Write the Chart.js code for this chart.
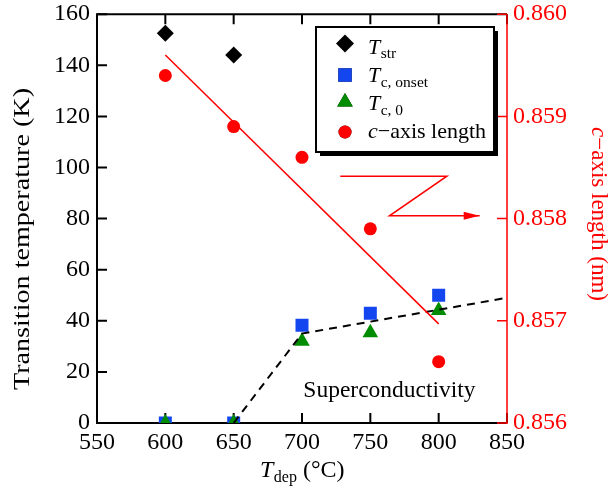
<!DOCTYPE html>
<html>
<head>
<meta charset="utf-8">
<script src="https://cdn.jsdelivr.net/npm/chart.js@4.4.1/dist/chart.umd.min.js"></script>
<style>
html, body { margin: 0; padding: 0; background: #fff; }
#quadro { width: 611px; height: 495px; }
</style>
</head>
<body>
<div id="quadro"><canvas id="grafico"></canvas></div>
<script>
// dados
const temperaturasDep = [600, 650, 700, 750, 800];
const tStr = [152.5, 144];
const tcOnset = [0, 0, 38.3, 43, 50];
const tcZero = [0, 0, 32, 35.3, 44];
const eixoC = [0.8594, 0.8589, 0.8586, 0.8579, 0.8566];
const ajusteX = [600, 800];
const ajusteC = [0.8596, 0.85697];
const guiaX = [650, 700, 850];
const guiaY = [0, 35, 49];
const setaX = [728, 806, 764, 830];
const setaY = [96.6, 96.6, 81.1, 81.1];
const textoSupercondutividade = { x: 764, y: 10.3, texto: 'Superconductivity' };

const legendaItens = [
    { principal: 'T', sub: 'str', estilo: 'rectRot', cor: '#000000', raio: 9 },
    { principal: 'T', sub: 'c, onset', estilo: 'rect', cor: 'rgb(20,70,240)', raio: 9.5 },
    { principal: 'T', sub: 'c, 0', estilo: 'triangle', cor: 'rgb(0,140,0)', raio: 9 },
    { principal: 'c', resto: '\u2212axis length', estilo: 'circle', cor: '#ff0000', raio: 6.5 },
];

const PRETO = '#000000';
const AZUL = 'rgb(20,70,240)';
const VERDE = 'rgb(0,140,0)';
const VERMELHO = '#ff0000';
const FONTE = 'Liberation Serif';

Chart.defaults.font.family = FONTE;

function pontos(xs, ys) {
    return ys.map((y, i) => ({ x: xs[i], y }));
}

const molduraPlugin = {
    id: 'moldura',
    beforeDatasetsDraw(chart) {
        const { ctx, chartArea: a, scales } = chart;
        ctx.save();
        ctx.lineCap = 'butt';
        ctx.strokeStyle = PRETO;
        ctx.lineWidth = 2;
        ctx.beginPath();
        scales.x.ticks.forEach((t) => {
            const px = scales.x.getPixelForValue(t.value);
            ctx.moveTo(px, a.bottom);
            ctx.lineTo(px, a.bottom - 10);
            ctx.moveTo(px, a.top);
            ctx.lineTo(px, a.top + 10);
        });
        scales.y.ticks.forEach((t) => {
            const py = scales.y.getPixelForValue(t.value);
            ctx.moveTo(a.left, py);
            ctx.lineTo(a.left + 10, py);
        });
        ctx.stroke();
        ctx.beginPath();
        ctx.moveTo(a.right, a.top);
        ctx.lineTo(a.left, a.top);
        ctx.lineTo(a.left, a.bottom);
        ctx.lineTo(a.right, a.bottom);
        ctx.stroke();
        ctx.strokeStyle = VERMELHO;
        ctx.lineWidth = 1.5;
        ctx.beginPath();
        scales.y2.ticks.forEach((t) => {
            const py = scales.y2.getPixelForValue(t.value);
            ctx.moveTo(a.right, py);
            ctx.lineTo(a.right - 10, py);
        });
        ctx.moveTo(a.right, a.top);
        ctx.lineTo(a.right, a.bottom + 1);
        ctx.stroke();
        ctx.restore();
    },
    afterDatasetsDraw(chart) {
        // ponta da seta, no fim do dataset da seta
        const meta = chart.getDatasetMeta(chart.data.datasets.findIndex((d) => d.id === 'seta'));
        const pts = meta.data;
        const p1 = pts[pts.length - 2];
        const p2 = pts[pts.length - 1];
        const ang = Math.atan2(p2.y - p1.y, p2.x - p1.x);
        const { ctx } = chart;
        ctx.save();
        ctx.translate(p2.x, p2.y);
        ctx.rotate(ang);
        ctx.fillStyle = VERMELHO;
        ctx.beginPath();
        ctx.moveTo(0, 0);
        ctx.lineTo(-16, -4);
        ctx.lineTo(-16, 4);
        ctx.closePath();
        ctx.fill();
        ctx.restore();
    },
};

function textoComSub(ctx, x, y, principal, sub, resto, tam, tamSub, alinhar) {
    const fPrinc = `italic ${tam}px ${FONTE}`;
    const fSub = `${tamSub}px ${FONTE}`;
    const fResto = `${tam}px ${FONTE}`;
    ctx.font = fPrinc;
    const w1 = ctx.measureText(principal).width;
    ctx.font = fSub;
    const w2 = sub ? ctx.measureText(sub).width : 0;
    ctx.font = fResto;
    const w3 = resto ? ctx.measureText(resto).width : 0;
    let x0 = x;
    if (alinhar === 'center') x0 = x - (w1 + w2 + w3) / 2;
    ctx.textAlign = 'left';
    ctx.textBaseline = 'alphabetic';
    ctx.font = fPrinc;
    ctx.fillText(principal, x0, y);
    if (sub) {
        ctx.font = fSub;
        ctx.fillText(sub, x0 + w1 + 0.5, y + tamSub * 0.3);
    }
    if (resto) {
        ctx.font = fResto;
        ctx.fillText(resto, x0 + w1 + w2 + (sub ? 0.5 : 0), y);
    }
}

const textosPlugin = {
    id: 'textos',
    afterDraw(chart) {
        const { ctx, chartArea: a, scales } = chart;
        ctx.save();

        // texto dentro do grafico
        ctx.fillStyle = PRETO;
        ctx.font = `23.5px ${FONTE}`;
        ctx.textAlign = 'center';
        ctx.textBaseline = 'alphabetic';
        ctx.fillText(textoSupercondutividade.texto,
            scales.x.getPixelForValue(textoSupercondutividade.x),
            scales.y.getPixelForValue(textoSupercondutividade.y));

        // titulo esquerdo
        ctx.save();
        ctx.translate(23, 239);
        ctx.rotate(-Math.PI / 2);
        ctx.font = `23px ${FONTE}`;
        const tituloEsq = 'Transition temperature (K)';
        const larg = ctx.measureText(tituloEsq).width;
        ctx.scale(302 / larg, 1);
        ctx.textAlign = 'center';
        ctx.textBaseline = 'middle';
        ctx.fillText(tituloEsq, 0, 0);
        ctx.restore();

        // titulo direito
        ctx.save();
        ctx.translate(592, 214);
        ctx.rotate(Math.PI / 2);
        ctx.fillStyle = VERMELHO;
        textoComSub(ctx, 0, 0, 'c', null, '\u2212axis length (nm)', 23, 15, 'center');
        ctx.restore();

        // titulo inferior
        ctx.fillStyle = PRETO;
        textoComSub(ctx, (a.left + a.right) / 2, 477, 'T', 'dep', ' (\u00b0C)', 24, 16, 'center');

        // legenda
        const caixa = { x: 316, y: 27, w: 178, h: 125 };
        ctx.fillStyle = PRETO;
        ctx.fillRect(caixa.x + 4, caixa.y + 4, caixa.w, caixa.h);
        ctx.fillStyle = '#ffffff';
        ctx.fillRect(caixa.x, caixa.y, caixa.w, caixa.h);
        ctx.strokeStyle = PRETO;
        ctx.lineWidth = 2;
        ctx.strokeRect(caixa.x, caixa.y, caixa.w, caixa.h);
        const centros = [43.5, 75, 102, 132];
        const bases = [53.5, 82, 110, 138];
        legendaItens.forEach((item, i) => {
            Chart.helpers.drawPoint(ctx, {
                pointStyle: item.estilo,
                radius: item.raio,
                borderWidth: 0,
                rotation: 0,
            }, 345, centros[i]);
            ctx.fillStyle = item.cor;
            ctx.fill();
            ctx.fillStyle = PRETO;
            textoComSub(ctx, 368, bases[i], item.principal, item.sub, item.resto, 22, 15.5, 'left');
        });

        ctx.restore();
    },
};

const conjuntos = [
    {
        id: 'ajuste', data: pontos(ajusteX, ajusteC), yAxisID: 'y2', showLine: true,
        borderColor: VERMELHO, borderWidth: 1.5, pointRadius: 0, order: 0,
    },
    {
        id: 'guia', data: pontos(guiaX, guiaY), yAxisID: 'y', showLine: true,
        borderColor: PRETO, borderWidth: 2, borderDash: [8, 6], pointRadius: 0, order: 0,
    },
    {
        id: 'seta', data: pontos(setaX, setaY), yAxisID: 'y', showLine: true,
        borderColor: VERMELHO, borderWidth: 1.5, pointRadius: 0, order: 0,
    },
    {
        id: 'tstr', data: pontos(temperaturasDep, tStr), yAxisID: 'y',
        pointStyle: 'rectRot', pointRadius: 8.5, backgroundColor: PRETO, borderWidth: 0, order: 1,
    },
    {
        id: 'eixoc', data: pontos(temperaturasDep, eixoC), yAxisID: 'y2',
        pointStyle: 'circle', pointRadius: 6.5, backgroundColor: VERMELHO, borderWidth: 0, order: 1,
    },
    {
        id: 'tconset', data: pontos(temperaturasDep, tcOnset), yAxisID: 'y',
        pointStyle: 'rect', pointRadius: 9.2, backgroundColor: AZUL, borderWidth: 0, order: 2,
    },
    {
        id: 'tczero', data: pontos(temperaturasDep, tcZero), yAxisID: 'y',
        pointStyle: 'triangle', pointRadius: 9, backgroundColor: VERDE, borderWidth: 0, order: 1,
    },
];

// lineHeight baixo so para o eixo vertical nao empurrar a area do grafico para baixo
const fonteTicksX = { family: FONTE, size: 24 };
const fonteTicksY = { family: FONTE, size: 24, lineHeight: 0.6 };

new Chart(document.getElementById('grafico'), {
    type: 'scatter',
    data: { datasets: conjuntos },
    options: {
        responsive: true,
        maintainAspectRatio: false,
        animation: false,
        layout: { padding: { top: 14, left: 0, right: 0, bottom: 0 } },
        plugins: { legend: { display: false }, tooltip: { enabled: false } },
        scales: {
            x: {
                type: 'linear', position: 'bottom', min: 550, max: 850,
                grid: { display: false, drawTicks: false },
                border: { display: false },
                ticks: { stepSize: 50, color: PRETO, padding: 5, maxRotation: 0, font: fonteTicksX },
                afterFit: (s) => { s.height = 72; },
            },
            y: {
                type: 'linear', position: 'left', min: 0, max: 160,
                grid: { display: false, drawTicks: false },
                border: { display: false },
                ticks: { stepSize: 20, color: PRETO, padding: 7, font: fonteTicksY },
                afterFit: (s) => { s.width = 97; },
            },
            y2: {
                type: 'linear', position: 'right', min: 0.856, max: 0.860,
                grid: { display: false, drawTicks: false },
                border: { display: false },
                ticks: {
                    stepSize: 0.001, color: VERMELHO, padding: 6, font: fonteTicksY,
                    callback: (v) => Number(v).toFixed(3),
                },
                afterFit: (s) => { s.width = 104; },
            },
        },
    },
    plugins: [molduraPlugin, textosPlugin],
});
</script>
</body>
</html>
